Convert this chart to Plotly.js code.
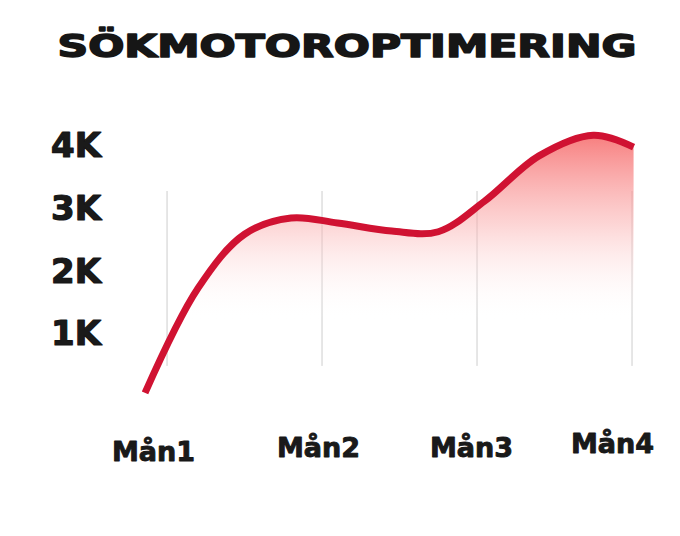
<!DOCTYPE html>
<html>
<head>
<meta charset="utf-8">
<script src="https://cdn.plot.ly/plotly-3.0.1.min.js"></script>
<style>html,body{margin:0;padding:0;background:#fff;}</style>
</head>
<body>
<div id="chart" style="width:680px;height:536px;"></div>
<script>
// ---- data ----
var months = ['Mån1', 'Mån2', 'Mån3', 'Mån4'];
var monthPos = [1, 2, 3, 4];
var curveX = [0.858, 1.2, 1.5, 1.8, 2.1, 2.45, 2.75, 3.05, 3.4, 3.75, 4.01];
var curveY = [50, 1720, 2580, 2840, 2760, 2630, 2620, 3110, 3830, 4160, 3970];
var yTickVals = [1000, 2000, 3000, 4000];
var yTickText = ['1K', '2K', '3K', '4K'];

// ---- style ----
var FONT = '"DejaVu Sans", sans-serif';
var labelShiftX = [-14, -4, -6, -20];
var labelShiftY = [-41, -37, -37, -33];

var trace = {
  x: curveX, y: curveY, type: 'scatter', mode: 'lines',
  line: {color: 'rgb(208,18,50)', width: 7, shape: 'spline', smoothing: 1.0},
  fill: 'tozeroy',
  fillgradient: {type: 'vertical', start: 1200, stop: 4300,
    colorscale: [[0, 'rgba(255,255,255,0)'], [0.5, 'rgba(250,170,170,0.5)'], [1, 'rgba(245,90,90,0.85)']]},
  hoverinfo: 'skip'
};

var shapes = monthPos.map(function (p) {
  return {type: 'line', xref: 'x', yref: 'y', x0: p, x1: p, y0: 480, y1: 3270,
    line: {color: 'rgba(0,0,0,0.2)', width: 1}, layer: 'below'};
});

var annotations = months.map(function (m, i) {
  return {text: m, x: monthPos[i], xref: 'x', y: 0, yref: 'paper', showarrow: false,
    xanchor: 'center', yanchor: 'middle', xshift: labelShiftX[i], yshift: labelShiftY[i],
    font: {family: FONT, size: 27, color: '#1a1a1a', weight: 'bold'}};
});

var layout = {
  width: 680, height: 536,
  margin: {l: 110, r: 30, t: 100, b: 126},
  paper_bgcolor: '#fff', plot_bgcolor: '#fff',
  showlegend: false,
  title: {text: 'SÖKMOTOROPTIMERING', x: 347 / 680, xref: 'container', xanchor: 'center',
    y: 1 - 46 / 536, yref: 'container', yanchor: 'middle',
    font: {family: FONT, size: 32, color: '#161616', weight: 'bold'}},
  xaxis: {range: [0.632, 4.116], showgrid: false, zeroline: false, showline: false,
    showticklabels: false, ticks: ''},
  yaxis: {range: [-223, 4721], showgrid: false, zeroline: false, showline: false,
    tickvals: yTickVals, ticktext: yTickText, ticks: '', ticklabelstandoff: 8,
    tickfont: {family: FONT, size: 34, color: '#1a1a1a', weight: 'bold'}},
  shapes: shapes,
  annotations: annotations
};

function embolden(sel, w) {
  document.querySelectorAll(sel).forEach(function (el) {
    el.style.stroke = '#161616';
    el.style.strokeWidth = w + 'px';
    el.style.strokeLinejoin = 'round';
  });
}

Plotly.newPlot('chart', [trace], layout, {staticPlot: true, displayModeBar: false}).then(function () {
  var t = document.querySelector('.gtitle');
  if (t) {
    var cx = parseFloat(t.getAttribute('x')) || 347;
    var prev = t.getAttribute('transform') || '';
    t.setAttribute('transform', prev + ' translate(' + cx + ',0) scale(1.33,1) translate(' + (-cx) + ',0)');
  }
  embolden('.gtitle', 1.6);
  embolden('.ytick text', 1.2);
  embolden('.annotation-text', 0.9);
});
</script>
</body>
</html>
